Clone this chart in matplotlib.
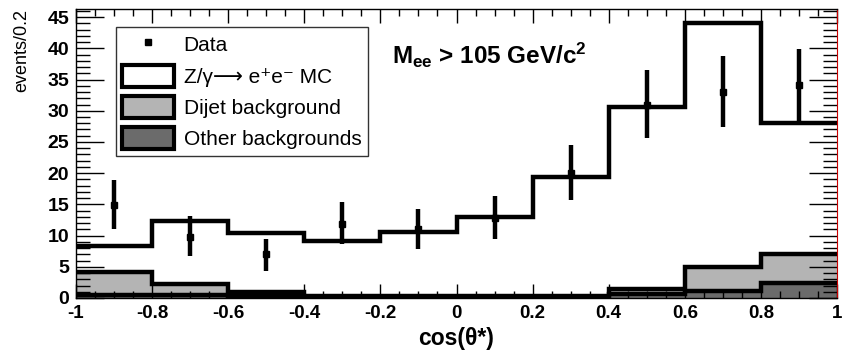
import numpy as np
import matplotlib
matplotlib.use("Agg")
import matplotlib.pyplot as plt
from matplotlib.patches import Patch
from matplotlib.lines import Line2D
from matplotlib.ticker import MultipleLocator

plt.rcParams['font.family'] = ['Liberation Sans', 'DejaVu Sans']
plt.rcParams['mathtext.fontset'] = 'custom'
plt.rcParams['mathtext.rm'] = 'Liberation Sans'
plt.rcParams['mathtext.bf'] = 'Liberation Sans:bold'
plt.rcParams['mathtext.it'] = 'Liberation Sans:italic'

# bin edges of cos(theta*)
bin_lo = -1.0
bin_hi = 1.0
n_bins = 10

# MC total (Z/gamma -> ee + backgrounds)
mc_total = [8.3, 12.3, 10.4, 9.1, 10.6, 13.0, 19.4, 30.6, 44.1, 28.0]
# background components
other_bkg = [0.5, 0.5, 0.3, 0.2, 0.2, 0.2, 0.2, 0.6, 1.2, 2.4]
dijet_bkg = [3.6, 1.8, 0.6, 0.2, 0.2, 0.2, 0.2, 0.9, 3.7, 4.6]

# data
data_x = [-0.9, -0.7, -0.5, -0.3, -0.1, 0.1, 0.3, 0.5, 0.7, 0.9]
data_y = [14.9, 9.8, 7.0, 11.8, 11.0, 12.8, 20.0, 31.0, 33.0, 34.1]
data_err_lo = [3.8, 3.0, 2.6, 3.2, 3.2, 3.3, 4.3, 5.3, 5.6, 5.9]
data_err_hi = [4.0, 3.3, 2.5, 3.6, 3.2, 3.5, 4.5, 5.6, 5.8, 5.8]

edges = np.linspace(bin_lo, bin_hi, n_bins + 1)
stack_top = np.add(other_bkg, dijet_bkg)

fig = plt.figure(figsize=(8.48, 3.5), dpi=100)
ax = fig.add_axes([76/848, 52/350, (837-76)/848, (298-9)/350])

ax.stairs(stack_top, edges, fill=True, color='#b4b4b4', baseline=0)
ax.stairs(stack_top, edges, color='black', lw=3.2, baseline=None)
ax.stairs(other_bkg, edges, fill=True, color='#6b6b6b', baseline=0)
ax.stairs(other_bkg, edges, color='black', lw=3.2, baseline=None)
ax.stairs(mc_total, edges, color='black', lw=3.2, baseline=None)

ax.errorbar(data_x, data_y, yerr=[data_err_lo, data_err_hi], fmt='s', color='black',
            ms=4.5, elinewidth=3.2, capsize=0, zorder=5)

ax.set_xlim(-1, 1)
ax.set_ylim(0, 46.3)

ax.xaxis.set_major_locator(MultipleLocator(0.2))
ax.xaxis.set_minor_locator(MultipleLocator(0.05))
ax.yaxis.set_major_locator(MultipleLocator(5))
ax.yaxis.set_minor_locator(MultipleLocator(1))
ax.tick_params(which='both', direction='in', top=True, right=True, width=1.0, color='black')
ax.tick_params(axis='y', which='major', length=20)
ax.tick_params(axis='y', which='minor', length=10)
ax.tick_params(axis='x', which='major', length=10)
ax.tick_params(axis='x', which='minor', length=5)
ax.tick_params(axis='x', labelsize=13.5, pad=5)
ax.tick_params(axis='y', labelsize=14, pad=5)

ax.set_xticks(edges)
ax.set_xticklabels(['%g' % round(v, 1) for v in edges], fontweight='bold')
for lab in ax.get_yticklabels():
    lab.set_fontweight('bold')

for sp in ax.spines.values():
    sp.set_linewidth(1.0)
ax.spines['right'].set_color('#cc0000')
ax.spines['right'].set_linewidth(0.8)

ax.set_xlabel('cos(θ*)', fontsize=16.5, fontweight='bold', labelpad=4)
fig.text(22/848, 1 - 9/350, 'events/0.2', rotation=90, ha='center', va='top', fontsize=13)

fig.text(392/848, 1 - 55/350, r'M$_{\mathbf{ee}}$ > 105 GeV/c$^{\mathbf{2}}$',
         fontsize=17.5, fontweight='bold', va='center', ha='left')

handles = [
    Line2D([], [], marker='s', ls='none', color='black', ms=4.5),
    Patch(facecolor='white', edgecolor='black', lw=3),
    Patch(facecolor='#b4b4b4', edgecolor='black', lw=3),
    Patch(facecolor='#6b6b6b', edgecolor='black', lw=3),
]
labels = ['Data', 'Z/γ⟶ e⁺e⁻ MC', 'Dijet background', 'Other backgrounds']
leg = ax.legend(handles, labels, loc='upper left', bbox_to_anchor=((116-76)/761, 1 - (27-9)/289),
                fontsize=15, frameon=True, fancybox=False, shadow=False, borderpad=0.3,
                labelspacing=0.45, handlelength=2.5, handleheight=1.25, handletextpad=0.45,
                borderaxespad=0)
leg.get_frame().set_edgecolor('black')
leg.get_frame().set_linewidth(1.0)

fig.savefig('out.png', dpi=100)
